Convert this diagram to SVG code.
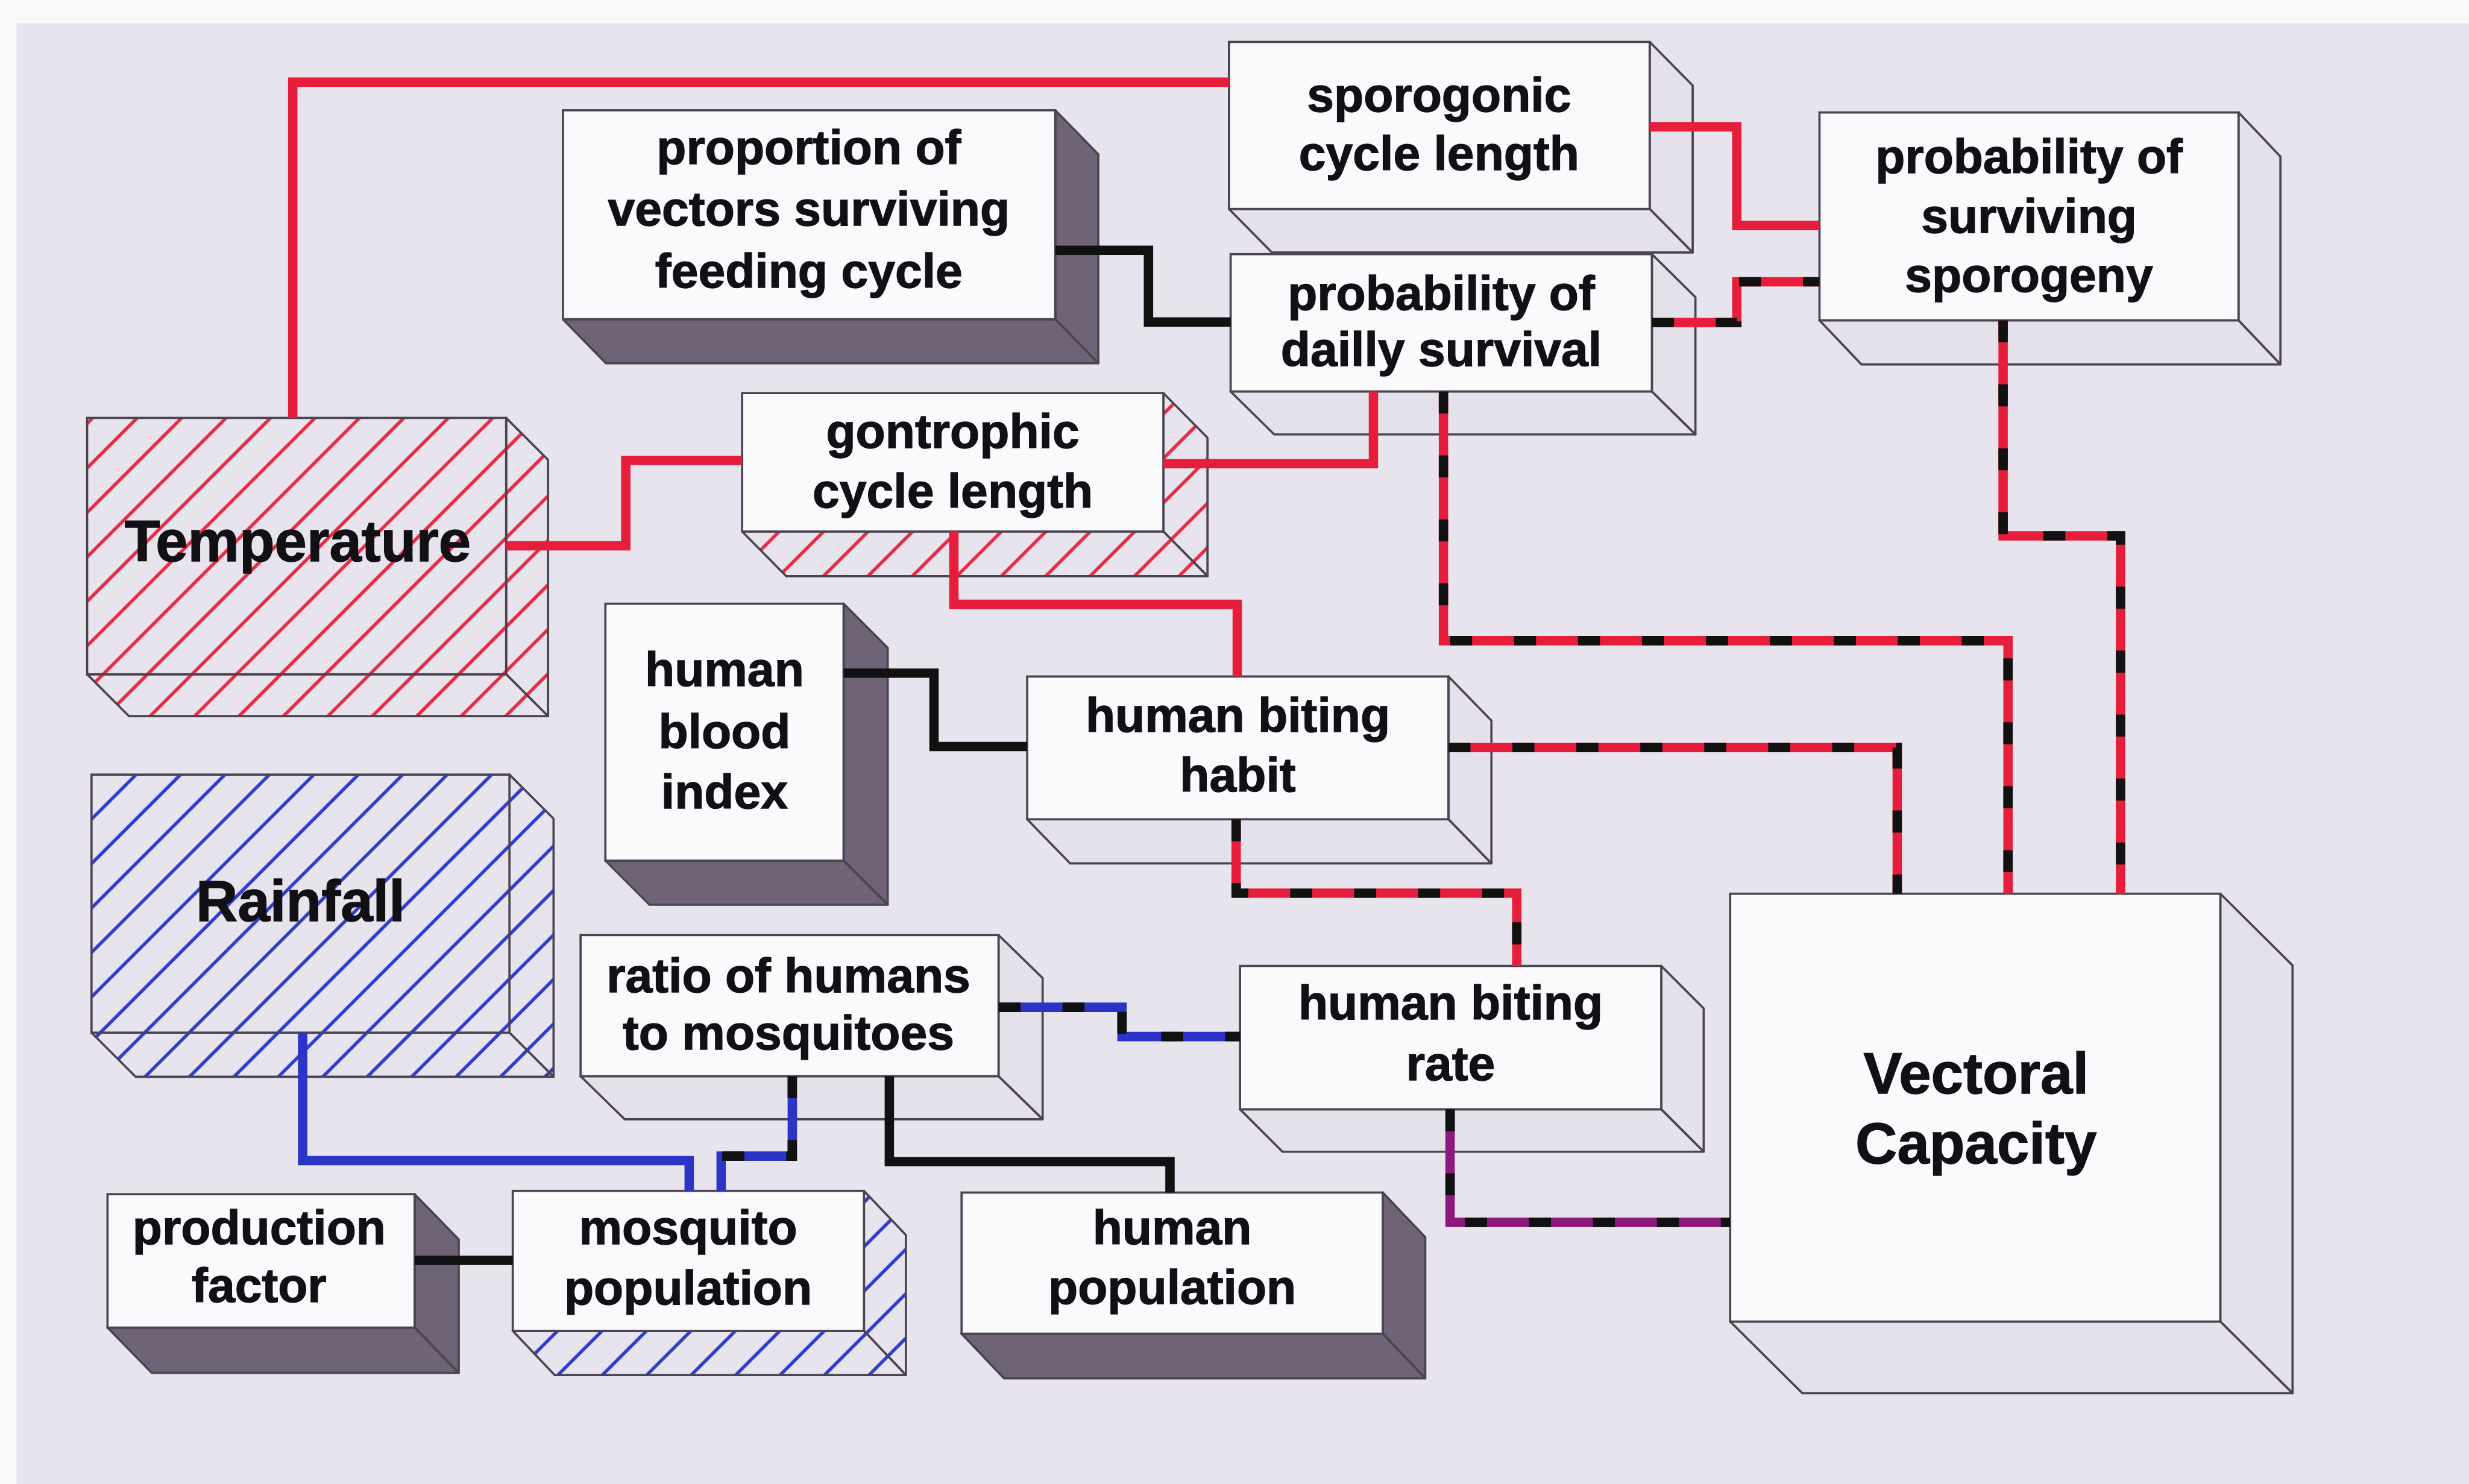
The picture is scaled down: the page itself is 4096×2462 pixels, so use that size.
<svg xmlns="http://www.w3.org/2000/svg" width="4096" height="2462" viewBox="0 0 4096 2462">
  <style>
    .front { fill: #FAFAFC; stroke: #4A4350; stroke-width: 4; }
    .side { fill: #E4E1EB; stroke: #4A4350; stroke-width: 4; stroke-linejoin: round; }
    .dark { fill: #6E6377; }
    .hred { fill: url(#hatchRed); }
    .hblue { fill: url(#hatchBlue); }
    .lbl { font-family: "Liberation Sans", Arial, Helvetica, sans-serif; font-weight: bold; font-size: 88px; fill: #121014; stroke: #121014; stroke-width: 1.5; text-anchor: middle; }
    .big { font-size: 105px; }
    .wire { fill: none; stroke-width: 17; stroke-linejoin: miter; stroke-linecap: butt; }
    .red { stroke: #E61E3C; }
    .blue { stroke: #2A34C6; }
    .purple { stroke: #8C1A7C; }
    .black { stroke: #111111; }
    .dash { fill: none; stroke: #111111; stroke-width: 17; stroke-dasharray: 40 76; stroke-linecap: butt; stroke-linejoin: miter; }
  </style>
  <defs>
    <pattern id="hatchRed" patternUnits="userSpaceOnUse" width="57" height="57" patternTransform="rotate(45)">
      <rect width="57" height="57" fill="#E7E4EE"/>
      <line x1="28" y1="0" x2="28" y2="57" stroke="#E62A44" stroke-width="6"/>
    </pattern>
    <pattern id="hatchBlue" patternUnits="userSpaceOnUse" width="57" height="57" patternTransform="rotate(45)">
      <rect width="57" height="57" fill="#E7E4EE"/>
      <line x1="28" y1="0" x2="28" y2="57" stroke="#2E3CCB" stroke-width="6"/>
    </pattern>
  </defs>

  <rect width="4096" height="2462" fill="#F9F9FB"/>
  <g transform="scale(0.91469)">
    <rect x="30" y="42" width="4448" height="2650" fill="#E7E4EE"/>

    <!-- nodes -->
    <g id="sporogonic-cycle-length">
      <polygon class="side" points="2992,76 3070,155 3070,458 2992,379"/>
      <polygon class="side" points="2229,379 2992,379 3070,458 2307,458"/>
      <rect class="front" x="2229" y="76" width="763" height="303"/>
      <text class="lbl" x="2610" y="202">sporogonic</text>
      <text class="lbl" x="2610" y="308">cycle length</text>
    </g>

    <g id="proportion-surviving-feeding">
      <polygon class="side dark" points="1914,200 1992,280 1992,659 1914,579"/>
      <polygon class="side dark" points="1021,579 1914,579 1992,659 1099,659"/>
      <rect class="front" x="1021" y="200" width="893" height="379"/>
      <text class="lbl" x="1467" y="297">proportion of</text>
      <text class="lbl" x="1467" y="409">vectors surviving</text>
      <text class="lbl" x="1467" y="521">feeding cycle</text>
    </g>

    <g id="probability-surviving-sporogeny">
      <polygon class="side" points="4060,204 4136,284 4136,661 4060,581"/>
      <polygon class="side" points="3300,581 4060,581 4136,661 3376,661"/>
      <rect class="front" x="3300" y="204" width="760" height="377"/>
      <text class="lbl" x="3680" y="314">probability of</text>
      <text class="lbl" x="3680" y="422">surviving</text>
      <text class="lbl" x="3680" y="529">sporogeny</text>
    </g>

    <g id="probability-daily-survival">
      <polygon class="side" points="2996,461 3075,539 3075,788 2996,710"/>
      <polygon class="side" points="2232,710 2996,710 3075,788 2311,788"/>
      <rect class="front" x="2232" y="461" width="764" height="249"/>
      <text class="lbl" x="2614" y="562">probability of</text>
      <text class="lbl" x="2614" y="664">dailly survival</text>
    </g>

    <g id="gontrophic-cycle-length">
      <polygon class="side hred" points="2110,713 2190,794 2190,1045 2110,964"/>
      <polygon class="side hred" points="1346,964 2110,964 2190,1045 1426,1045"/>
      <rect class="front" x="1346" y="713" width="764" height="251"/>
      <text class="lbl" x="1728" y="812">gontrophic</text>
      <text class="lbl" x="1728" y="921">cycle length</text>
    </g>

    <g id="temperature">
      <polygon class="side hred" points="918,758 994,834 994,1299 918,1223"/>
      <polygon class="side hred" points="158,1223 918,1223 994,1299 234,1299"/>
      <rect class="front hred" x="158" y="758" width="760" height="465"/>
      <text class="lbl big" x="540" y="1018">Temperature</text>
    </g>

    <g id="human-blood-index">
      <polygon class="side dark" points="1530,1095 1610,1175 1610,1641 1530,1561"/>
      <polygon class="side dark" points="1098,1561 1530,1561 1610,1641 1178,1641"/>
      <rect class="front" x="1098" y="1095" width="432" height="466"/>
      <text class="lbl" x="1314" y="1244">human</text>
      <text class="lbl" x="1314" y="1357">blood</text>
      <text class="lbl" x="1314" y="1466">index</text>
    </g>

    <g id="human-biting-habit">
      <polygon class="side" points="2627,1227 2705,1307 2705,1566 2627,1486"/>
      <polygon class="side" points="1863,1486 2627,1486 2705,1566 1941,1566"/>
      <rect class="front" x="1863" y="1227" width="764" height="259"/>
      <text class="lbl" x="2245" y="1327">human biting</text>
      <text class="lbl" x="2245" y="1436">habit</text>
    </g>

    <g id="rainfall">
      <polygon class="side hblue" points="924,1405 1004,1485 1004,1953 924,1873"/>
      <polygon class="side hblue" points="166,1873 924,1873 1004,1953 246,1953"/>
      <rect class="front hblue" x="166" y="1405" width="758" height="468"/>
      <text class="lbl big" x="545" y="1670">Rainfall</text>
    </g>

    <g id="ratio-humans-mosquitoes">
      <polygon class="side" points="1811,1696 1891,1774 1891,2030 1811,1952"/>
      <polygon class="side" points="1053,1952 1811,1952 1891,2030 1133,2030"/>
      <rect class="front" x="1053" y="1696" width="758" height="256"/>
      <text class="lbl" x="1430" y="1800">ratio of humans</text>
      <text class="lbl" x="1430" y="1903">to mosquitoes</text>
    </g>

    <g id="human-biting-rate">
      <polygon class="side" points="3013,1752 3090,1829 3090,2089 3013,2012"/>
      <polygon class="side" points="2249,2012 3013,2012 3090,2089 2326,2089"/>
      <rect class="front" x="2249" y="1752" width="764" height="260"/>
      <text class="lbl" x="2631" y="1849">human biting</text>
      <text class="lbl" x="2631" y="1959">rate</text>
    </g>

    <g id="vectoral-capacity">
      <polygon class="side" points="4027,1621 4158,1751 4158,2527 4027,2397"/>
      <polygon class="side" points="3138,2397 4027,2397 4158,2527 3269,2527"/>
      <rect class="front" x="3138" y="1621" width="889" height="776"/>
      <text class="lbl big" x="3584" y="1983">Vectoral</text>
      <text class="lbl big" x="3584" y="2110">Capacity</text>
    </g>

    <g id="production-factor">
      <polygon class="side dark" points="752,2166 832,2248 832,2490 752,2408"/>
      <polygon class="side dark" points="195,2408 752,2408 832,2490 275,2490"/>
      <rect class="front" x="195" y="2166" width="557" height="242"/>
      <text class="lbl" x="470" y="2256">production</text>
      <text class="lbl" x="470" y="2361">factor</text>
    </g>

    <g id="mosquito-population">
      <polygon class="side hblue" points="1567,2160 1643,2240 1643,2494 1567,2414"/>
      <polygon class="side hblue" points="930,2414 1567,2414 1643,2494 1006,2494"/>
      <rect class="front" x="930" y="2160" width="637" height="254"/>
      <text class="lbl" x="1248" y="2256">mosquito</text>
      <text class="lbl" x="1248" y="2366">population</text>
    </g>

    <g id="human-population">
      <polygon class="side dark" points="2508,2163 2585,2244 2585,2500 2508,2419"/>
      <polygon class="side dark" points="1744,2419 2508,2419 2585,2500 1821,2500"/>
      <rect class="front" x="1744" y="2163" width="764" height="256"/>
      <text class="lbl" x="2126" y="2257">human</text>
      <text class="lbl" x="2126" y="2365">population</text>
    </g>

    <!-- connectors -->
    <g id="connectors">
      <!-- solid links -->
      <polyline class="wire red" points="531,758 531,149 2229,149"/>
      <polyline class="wire red" points="918,990 1135,990 1135,835 1346,835"/>
      <polyline class="wire black" points="1914,454 2083,454 2083,584 2232,584"/>
      <polyline class="wire red" points="2992,230 3150,230 3150,409 3300,409"/>
      <polyline class="wire red" points="2491,710 2491,841 2110,841"/>
      <polyline class="wire red" points="1730,964 1730,1096 2244,1096 2244,1227"/>
      <polyline class="wire black" points="1530,1221 1694,1221 1694,1354 1863,1354"/>
      <polyline class="wire blue" points="549,1873 549,2105 1250,2105 1250,2160"/>
      <polyline class="wire black" points="1613,1952 1613,2107 2122,2107 2122,2163"/>
      <polyline class="wire black" points="752,2286 930,2286"/>

      <!-- two-tone links -->
      <polyline class="wire red" points="2996,585 3150,585 3150,511 3300,511"/>
      <polyline class="dash" points="2996,585 3150,585 3150,511 3300,511"/>

      <polyline class="wire red" points="2618,710 2618,1162 3642,1162 3642,1621"/>
      <polyline class="dash" points="2618,710 2618,1162 3642,1162 3642,1621"/>

      <polyline class="wire red" points="3633,581 3633,972 3846,972 3846,1621"/>
      <polyline class="dash" points="3633,581 3633,972 3846,972 3846,1621"/>

      <polyline class="wire red" points="2627,1356 3441,1356 3441,1621"/>
      <polyline class="dash" points="2627,1356 3441,1356 3441,1621"/>

      <polyline class="wire red" points="2242,1486 2242,1620 2751,1620 2751,1752"/>
      <polyline class="dash" points="2242,1486 2242,1620 2751,1620 2751,1752"/>

      <polyline class="wire blue" points="1811,1827 2035,1827 2035,1880 2249,1880"/>
      <polyline class="dash" points="1811,1827 2035,1827 2035,1880 2249,1880"/>

      <polyline class="wire blue" points="1437,1952 1437,2097 1308,2097 1308,2160"/>
      <polyline class="dash" points="1437,1952 1437,2097 1308,2097 1308,2160"/>

      <polyline class="wire purple" points="2630,2012 2630,2217 3138,2217"/>
      <polyline class="dash" points="2630,2012 2630,2217 3138,2217"/>
    </g>
  </g>
</svg>
